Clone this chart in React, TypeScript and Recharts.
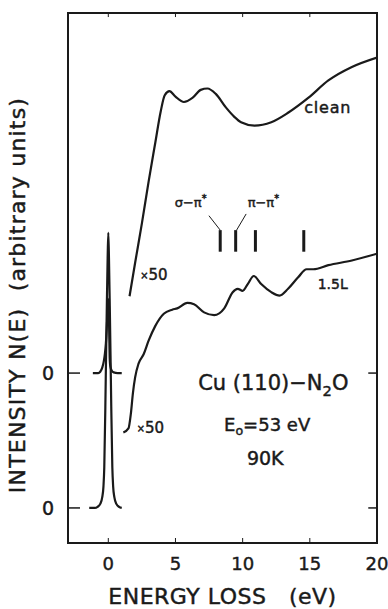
import { Label, Line, LineChart, ReferenceArea, ReferenceDot, ReferenceLine, XAxis, YAxis } from "recharts";

const FONT = "'DejaVu Sans', sans-serif";
const INK = "#1a1a1a";
// slightly heavier lettering
const HEAVY = { stroke: INK, strokeWidth: 0.45 };

// energy loss in eV, intensity N(E) in arbitrary units (lower trace sits on 0, upper on 1)
const lowPeakE = [-1.42, -1.0, -0.8, -0.6, -0.45, -0.36, -0.3, -0.22, -0.17, -0.11, -0.05, 0, 0.05, 0.11, 0.17, 0.22, 0.3, 0.36, 0.45, 0.6, 0.8, 1.0];
const lowPeakN = [0, 0, 0.008, 0.03, 0.08, 0.16, 0.3, 0.75, 1.1, 1.5, 1.85, 2.04, 1.85, 1.5, 1.1, 0.75, 0.3, 0.16, 0.08, 0.03, 0.008, 0];

const highPeakE = [-1.15, -0.75, -0.6, -0.45, -0.33, -0.25, -0.18, -0.12, -0.06, 0, 0.06, 0.1, 0.15, 0.25, 0.4, 0.7, 1.0];
const highPeakN = [1, 1, 1.01, 1.04, 1.09, 1.146, 1.22, 1.32, 1.45, 1.55, 1.35, 1.12, 1.05, 1.02, 1.005, 1, 1];

const cleanE = [1.58, 2.0, 2.5, 3.0, 3.5, 3.9, 4.2, 4.55, 5.0, 5.63, 6.26, 6.88, 7.38, 8.0, 8.75, 9.38, 9.88, 10.88, 12.13, 13.38, 14.88, 16.38, 18.13, 20.0];
const cleanN = [1.57, 1.82, 2.11, 2.42, 2.71, 2.94, 3.06, 3.09, 3.05, 3.01, 3.04, 3.1, 3.11, 3.07, 2.97, 2.9, 2.86, 2.835, 2.86, 2.93, 3.04, 3.17, 3.27, 3.34];

const dosedE = [1.12, 1.5, 1.68, 1.83, 2.0, 2.25, 2.63, 3.0, 3.5, 4.13, 4.76, 5.13, 5.88, 6.38, 7.13, 7.88, 8.63, 9.26, 9.63, 10.0, 10.38, 10.83, 11.38, 12.13, 12.75, 13.38, 14.13, 14.76, 15.26, 16.38, 18.13, 20.0];
const dosedN = [0.56, 0.59, 0.7, 0.85, 0.97, 1.07, 1.14, 1.24, 1.35, 1.44, 1.47, 1.48, 1.52, 1.51, 1.45, 1.43, 1.48, 1.6, 1.625, 1.61, 1.66, 1.72, 1.66, 1.6, 1.575, 1.625, 1.71, 1.77, 1.77, 1.8, 1.835, 1.885];

// N2O loss positions (eV)
const lossMarkers = [8.33, 9.48, 10.95, 14.55];
const markerFrom = 1.9;
const markerTo = 2.06;

const E_MIN = -3;
const E_MAX = 20;
const N_MIN = -0.26;
const N_MAX = 3.67;

const energyTicks = [0, 5, 10, 15, 20];
const frameTicks = [0, 5, 10, 15];
const zeroLevels = [0, 1];

type Pt = { e: number; n: number };
const zip = (e: number[], n: number[]): Pt[] => e.map((v, i) => ({ e: v, n: n[i] }));

type Part = { t: string; sub?: boolean; sup?: boolean; small?: boolean };
type NoteDef = { e: number; n: number; size: number; parts: Part[]; spacing?: number };

const notes: NoteDef[] = [
  { e: 16.33, n: 2.97, size: 16, spacing: 0.8, parts: [{ t: "clean" }] },
  { e: 16.7, n: 1.664, size: 14, parts: [{ t: "1.5L" }] },
  { e: 3.39, n: 1.724, size: 15, parts: [{ t: "×", small: true }, { t: "50" }] },
  { e: 3.13, n: 0.59, size: 15, parts: [{ t: "×", small: true }, { t: "50" }] },
  { e: 6.13, n: 2.27, size: 13, parts: [{ t: "σ−π" }, { t: "*", sup: true }] },
  { e: 11.54, n: 2.27, size: 13, parts: [{ t: "π−π" }, { t: "*", sup: true }] },
  { e: 12.28, n: 0.923, size: 21, parts: [{ t: "Cu (110)−N" }, { t: "2", sub: true }, { t: "O" }] },
  { e: 11.82, n: 0.62, size: 18, parts: [{ t: "E" }, { t: "o", sub: true }, { t: "=53 eV" }] },
  { e: 11.68, n: 0.368, size: 19, parts: [{ t: "90K" }] },
];

const leaders = [
  { from: { x: 7.49, y: 2.167 }, to: { x: 8.33, y: 2.06 } },
  { from: { x: 10.26, y: 2.18 }, to: { x: 9.55, y: 2.06 } },
];

function Note({ viewBox, def }: { viewBox?: any; def: NoteDef }) {
  if (!viewBox) return null;
  const cx = viewBox.x + (viewBox.width || 0) / 2;
  const cy = viewBox.y + (viewBox.height || 0) / 2;
  const shift = def.size * 0.3;
  let offset = 0;
  return (
    <text
      x={cx}
      y={cy}
      textAnchor="middle"
      dominantBaseline="central"
      fontFamily={FONT}
      fontSize={def.size}
      letterSpacing={def.spacing ?? 0}
      fill={INK}
      {...HEAVY}
    >
      {def.parts.map((p, i) => {
        const target = p.sub ? shift : p.sup ? -shift : 0;
        const dy = target - offset;
        offset = target;
        const size = p.sub ? def.size * 0.7 : p.sup ? def.size * 0.75 : p.small ? def.size * 0.65 : def.size;
        return (
          <tspan key={i} dy={dy} fontSize={size}>
            {p.t}
          </tspan>
        );
      })}
    </text>
  );
}

const line = { stroke: INK, strokeWidth: 2.2, dot: false, isAnimationActive: false, type: "monotone" as const };

export default function App() {
  return (
    <div style={{ position: "absolute", left: 0, top: 0, background: "#fff" }}>
      <LineChart width={388} height={609} margin={{ top: 13, right: 11, bottom: 36, left: 8 }}>
        <XAxis
          dataKey="e"
          type="number"
          domain={[E_MIN, E_MAX]}
          ticks={energyTicks}
          allowDataOverflow
          height={30}
          axisLine={{ stroke: INK, strokeWidth: 2 }}
          tickLine={{ stroke: INK, strokeWidth: 1 }}
          tickSize={-5}
          tickMargin={19}
          tick={{ fill: INK, fontSize: 18, fontFamily: FONT, ...HEAVY }}
        >
          <Label
            content={({ viewBox }: any) => (
              <text
                x={viewBox.x + viewBox.width / 2}
                y={viewBox.y + 61}
                textAnchor="middle"
                fontFamily={FONT}
                fontSize={22}
                letterSpacing={0.5}
                fill={INK}
                {...HEAVY}
                style={{ whiteSpace: "pre" }}
              >
                {"ENERGY LOSS   (eV)"}
              </text>
            )}
          />
        </XAxis>
        <YAxis
          type="number"
          domain={[N_MIN, N_MAX]}
          ticks={zeroLevels}
          allowDataOverflow
          width={60}
          axisLine={{ stroke: INK, strokeWidth: 2 }}
          tickLine={{ stroke: INK, strokeWidth: 1.5 }}
          tickSize={-12}
          tickMargin={26}
          tickFormatter={() => "0"}
          tick={{ fill: INK, fontSize: 19, fontFamily: FONT, ...HEAVY }}
        >
          <Label
            content={({ viewBox }: any) => {
              const x = viewBox.x + 9;
              const y = viewBox.y + viewBox.height / 2 + 17;
              return (
                <text
                  x={x}
                  y={y}
                  transform={`rotate(-90 ${x} ${y})`}
                  textAnchor="middle"
                  dominantBaseline="central"
                  fontFamily={FONT}
                  fontSize={22}
                  letterSpacing={1.2}
                  fill={INK}
                  {...HEAVY}
                  style={{ whiteSpace: "pre" }}
                >
                  {"INTENSITY N(E)  (arbitrary units)"}
                </text>
              );
            }}
          />
        </YAxis>

        {/* box around the plot, with inward ticks on the top and right edges */}
        <ReferenceArea x1={E_MIN} x2={E_MAX} y1={N_MIN} y2={N_MAX} fill="none" stroke={INK} strokeWidth={2} />
        {frameTicks.map((e) => (
          <ReferenceLine
            key={`t${e}`}
            segment={[
              { x: e, y: N_MAX },
              { x: e, y: N_MAX - 0.03 },
            ]}
            stroke={INK}
            strokeWidth={1}
          />
        ))}
        {zeroLevels.map((n) => (
          <ReferenceLine
            key={`r${n}`}
            segment={[
              { x: E_MAX, y: n },
              { x: E_MAX - 0.65, y: n },
            ]}
            stroke={INK}
            strokeWidth={1.5}
          />
        ))}

        <Line data={zip(lowPeakE, lowPeakN)} dataKey="n" {...line} />
        <Line data={zip(highPeakE, highPeakN)} dataKey="n" {...line} />
        <Line data={zip(cleanE, cleanN)} dataKey="n" {...line} />
        <Line data={zip(dosedE, dosedN)} dataKey="n" {...line} />

        {lossMarkers.map((e) => (
          <ReferenceLine
            key={e}
            segment={[
              { x: e, y: markerFrom },
              { x: e, y: markerTo },
            ]}
            stroke={INK}
            strokeWidth={3}
          />
        ))}
        {leaders.map((l, i) => (
          <ReferenceLine key={`l${i}`} segment={[l.from, l.to]} stroke={INK} strokeWidth={1} />
        ))}
        {notes.map((d, i) => (
          <ReferenceDot
            key={`n${i}`}
            x={d.e}
            y={d.n}
            r={0}
            fill="none"
            stroke="none"
            label={(p: any) => <Note viewBox={p.viewBox} def={d} />}
          />
        ))}
      </LineChart>
    </div>
  );
}
